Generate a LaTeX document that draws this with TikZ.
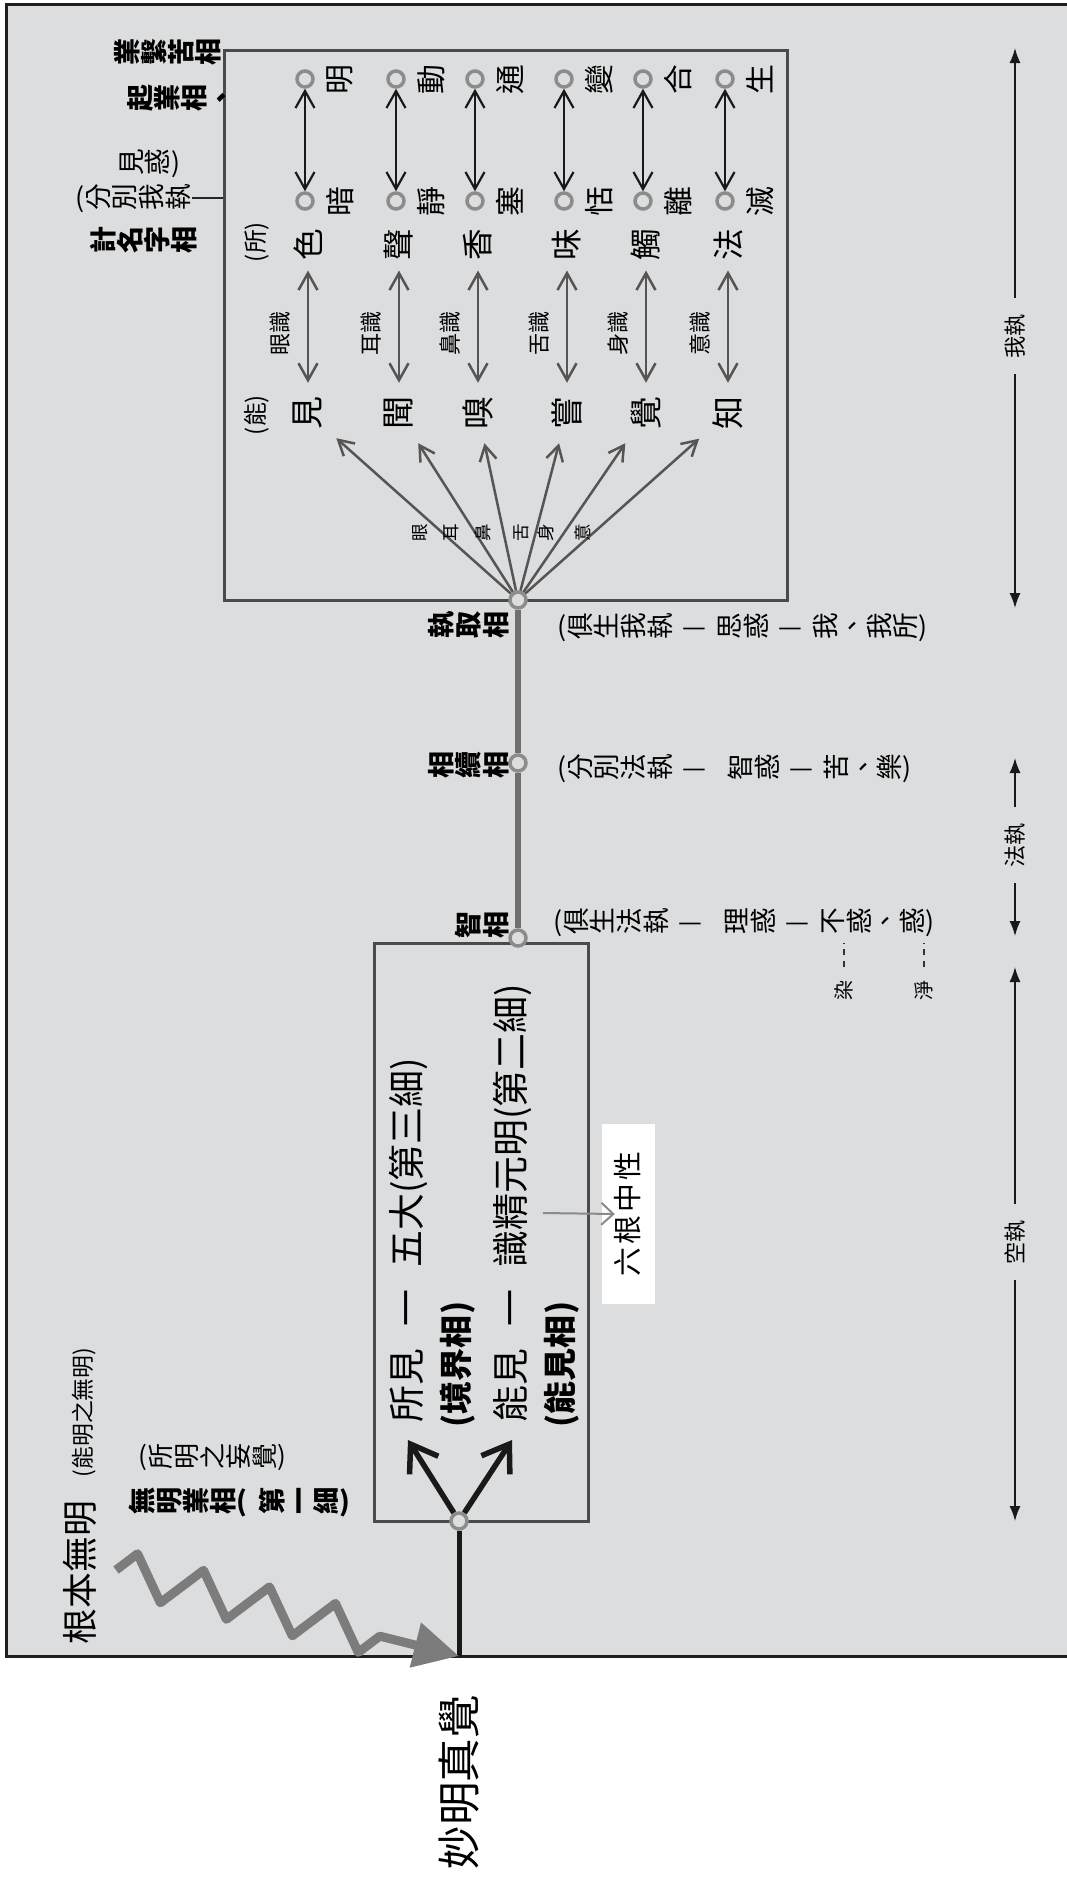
\documentclass[tikz,border=0pt]{standalone}
\usepackage{fontspec}
\setmainfont{Noto Sans CJK TC}
\usepackage{graphicx}
\usetikzlibrary{arrows.meta,decorations.pathmorphing,calc}

\definecolor{bg}{HTML}{DCDDDF}
\definecolor{boxline}{HTML}{4A4A4A}
\definecolor{ringc}{HTML}{8C8C8C}
\definecolor{stemc}{HTML}{6F6F6F}
\definecolor{fanc}{HTML}{555555}
\definecolor{greyc}{HTML}{8A8A8A}
\definecolor{wavec}{HTML}{7C7C7D}

\newcommand\F[1]{\fontsize{#1}{#1}\selectfont}
\newcommand\rg[1]{\rotatebox[origin=c]{90}{\rule[-.12em]{0pt}{1em}#1}}
\makeatletter
\newcommand\rr[1]{\rri#1\relax}
\def\rri#1{\ifx\relax#1\expandafter\@gobble\else\expandafter\@firstofone\fi{\rg{#1}\rri}}
\makeatother
\newcommand\dd{\hspace{.35em}—\hspace{.35em}}
\newcommand\gap{\hspace{.6em}}

\tikzset{
  outer/.style={draw=black!88, fill=bg, line width=0.3mm},
  box/.style={draw=boxline, line width=0.3mm, inner sep=0pt},
  ring/.style={circle, draw=ringc, line width=0.35mm, fill=bg, minimum size=1.6mm, inner sep=0pt},
  stem/.style={draw=stemc, line width=0.6mm},
  mainline/.style={draw=black!90, line width=0.5mm},
  yarrow/.style={black!90, line width=0.55mm, -{Straight Barb[length=2.5mm,width=3.4mm]}},
  dbl/.style={black!90, line width=0.22mm, {Straight Barb[length=1.7mm,width=1.9mm]}-{Straight Barb[length=1.7mm,width=1.9mm]}},
  shi/.style={fanc, line width=0.25mm, {Straight Barb[length=1.7mm,width=1.9mm]}-{Straight Barb[length=1.7mm,width=1.9mm]}},
  fanarr/.style={fanc, line width=0.25mm, -{Straight Barb[length=1.5mm,width=1.7mm]}},
  side/.style={black!90, line width=0.15mm, -{Latex[length=1.5mm,width=1.1mm]}},
  greyarr/.style={greyc, line width=0.2mm, -{Straight Barb[length=1.2mm,width=2.2mm]}},
  wave/.style={wavec, line width=0.9mm, line join=round, decorate,
    decoration={zigzag, segment length=6.8mm, amplitude=2.1mm, post length=5mm},
    -{Triangle[length=4.5mm,width=4.4mm]}},
  dashlink/.style={black!80, line width=0.15mm, dash pattern=on 0.6mm off 0.6mm},
  rtxt/.style={rotate=90, inner sep=0pt},
  rowtxt/.style={inner sep=0pt, anchor=west, font=\F{7.6pt}},
  lbl/.style={inner sep=0pt, font=\F{7.7pt}\bfseries},
}

\begin{document}
\begin{tikzpicture}[x=0.1mm,y=-0.1mm]
  \useasboundingbox (0,0) rectangle (1067,1880);
  \clip (0,0) rectangle (1067,1880);
  \draw[outer] (6,4) rectangle (1090,1656);

  % the two frames
  \node[box, minimum width=56.3mm, minimum height=55mm] (ubox) at (505.5,325) {};
  \node[box, minimum width=21.4mm, minimum height=57.8mm] (lbox) at (481,1232) {};

  % stem and its stations
  \node[ring] (qu) at (518,600) {};
  \node[ring] (xu) at (518,763) {};
  \node[ring] (zhi) at (518,938) {};
  \draw[stem] (qu) -- (xu) -- (zhi);

  \node[lbl, anchor=east] (quL) at (510,625) {\rr{執取相}};
  \node[lbl, anchor=east] (xuL) at (510,765) {\rr{相續相}};
  \node[lbl, anchor=east] (zhiL) at (510,925) {\rr{智相}};

  \node[rowtxt] (quR) at (557,627) {(\rr{俱生我執}\dd\rr{思惑}\dd\rr{我、我所})};
  \node[rowtxt] (xuR) at (557,768) {(\rr{分別法執}\dd\hspace{.4em}\rr{智惑}\dd\rr{苦、樂})};
  \node[rowtxt] (zhiR) at (553,922) {(\rr{俱生法執}\dd\hspace{.4em}\rr{理惑}\dd\rr{不惑、惑})};

  \node[rtxt, font=\F{5.7pt}] (ran) at (844,990) {染};
  \node[rtxt, font=\F{5.7pt}] (jin) at (924,990) {淨};
  \coordinate (ranT) at (844,943);
  \coordinate (jinT) at (924,943);
  \draw[dashlink, shorten <=1.2mm] (ran.east) -- (ranT);
  \draw[dashlink, shorten <=1.2mm] (jin.east) -- (jinT);

  % six roots
  \foreach \cx/\tp/\bt/\ob/\sn/\og/\fx [count=\i] in
    {305/明/暗/色/見/眼/420, 396/動/靜/聲/聞/耳/451, 475/通/塞/香/嗅/鼻/483,
     564/變/恬/味/嘗/舌/521, 643/合/離/觸/覺/身/546, 725/生/滅/法/知/意/583} {
    \node[ring] (t\i) at (\cx,79) {};
    \node[ring] (b\i) at (\cx,201) {};
    \draw[dbl] (t\i) -- (b\i);
    \node[rtxt, font=\F{8.5pt}] at (\cx+35,80) {\tp};
    \node[rtxt, font=\F{8.5pt}] at (\cx+35,202) {\bt};
    \node[rtxt, font=\F{9pt}, inner sep=0.9mm] (o\i) at (\cx+3,245) {\ob};
    \node[rtxt, font=\F{9.4pt}, inner sep=1.3mm] (s\i) at (\cx+3,413) {\sn};
    \draw[shi] (s\i) -- (o\i);
    \node[rtxt, font=\F{6.3pt}] at (\cx-25,333) {\og 識};
    \draw[fanarr] (qu) -- (s\i);
    \node[rtxt, font=\F{5pt}] at (\fx,533) {\og};
  }
  \node[rtxt, font=\F{6.8pt}] (suo) at (257,242) {(所)};
  \node[rtxt, font=\F{6.8pt}] (neng) at (257,415) {(能)};

  % labels left of the upper frame
  \node[lbl, anchor=west] (kuxiang) at (113,52) {\rr{業繫苦相}};
  \node[lbl, anchor=west] (qiye) at (126,98) {\rr{起業相、}};
  \node[rowtxt] (jianhuo) at (117,163) {\rr{見惑})};
  \node[rowtxt] (fbwz) at (75,198) {(\rr{分別我執}};
  \draw[black!85, line width=0.15mm] (fbwz.east) -- (fbwz.east -| ubox.west);
  \node[lbl, anchor=west] (jimz) at (89,240) {\rr{計名字相}};

  % root and first stage
  \node[ring] (yeh) at (459,1521) {};
  \coordinate (base) at (459,1656);
  \draw[mainline] (base) -- (yeh);

  \node[rtxt, anchor=west, inner sep=1.7mm, font=\F{10.5pt}] (sj) at (408,1440) {所見\gap 一\gap 五大(第三細)};
  \node[rtxt, anchor=west, font=\F{9.4pt}\bfseries] (jjx) at (458,1428) {(境界相)};
  \node[rtxt, anchor=west, inner sep=1.7mm, font=\F{10.5pt}] (nj) at (512,1440) {能見\gap 一\gap 識精元明(第二細)};
  \node[rtxt, anchor=west, font=\F{9.4pt}\bfseries] (njx) at (562,1428) {(能見相)};
  \draw[yarrow] (yeh) -- (sj.west);
  \draw[yarrow] (yeh) -- (nj.west);

  \node[rtxt, fill=white, minimum width=18mm, minimum height=5.3mm, font=\F{8.2pt}] (lg) at (628,1214)
    {六\hspace{.12em}根\hspace{.12em}中\hspace{.12em}性};
  \coordinate (jing) at (543,1213);
  \draw[greyarr] (jing) -- ([xshift=1.4mm]lg.north);

  \node[rtxt, anchor=west, font=\F{10.2pt}] (gbwm) at (80,1645) {根本無明};
  \node[rtxt, anchor=west, font=\F{6.5pt}] (nmwm) at (84,1478) {(能明之無明)};
  \node[rowtxt, font=\F{7.4pt}] (smwj) at (138,1457) {(\rr{所明之妄覺})};
  \node[rowtxt, font=\F{7.7pt}\bfseries] (wmyx) at (128,1502) {\rr{無明業相}(\hspace{.4em}\rr{第一細})};

  \coordinate (ws) at (116,1570);
  \draw[wave] (ws) -- (base);

  \node[rtxt, font=\F{12.4pt}] (mmzj) at (459,1782) {妙明真覺};

  % attachments on the right
  \foreach \nm/\ty/\ya/\yb/\txt in {wz/336/48/608/我執, fz/845/758/936/法執, kz/1242/967/1521/空執} {
    \node[rtxt, font=\F{6.3pt}, inner sep=1.5mm] (\nm) at (1015,\ty) {\txt};
    \coordinate (\nm-t) at (1015,\ya);
    \coordinate (\nm-b) at (1015,\yb);
    \draw[side] (\nm) -- (\nm-t);
    \draw[side] (\nm) -- (\nm-b);
  }
\end{tikzpicture}
\end{document}
